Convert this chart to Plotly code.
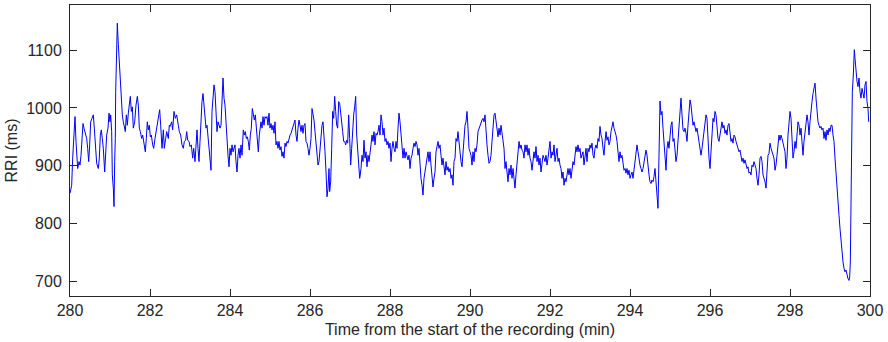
import plotly.graph_objects as go

# RRI series, split into segments (time in minutes, RRI in ms)
t_seg1 = [280.000, 280.042, 280.067, 280.100, 280.125, 280.150, 280.167, 280.192, 280.225, 280.250,
          280.275, 280.300, 280.325, 280.350, 280.375, 280.417, 280.442, 280.467, 280.492, 280.517,
          280.550, 280.583, 280.608, 280.633, 280.667, 280.708, 280.733, 280.758, 280.783, 280.808,
          280.833, 280.867, 280.892, 280.917, 280.950, 280.975, 281.000, 281.017, 281.042, 281.058,
          281.083, 281.100, 281.117, 281.133, 281.142, 281.167, 281.183, 281.208, 281.233, 281.258,
          281.283, 281.308, 281.333, 281.358, 281.383, 281.408, 281.433, 281.458, 281.483, 281.508,
          281.533, 281.558, 281.583, 281.617, 281.650, 281.683, 281.708, 281.733, 281.758, 281.792,
          281.817, 281.850, 281.883, 281.908, 281.933, 281.958, 281.983, 282.008, 282.033, 282.067,
          282.092, 282.125, 282.150, 282.183, 282.217, 282.242, 282.267, 282.300, 282.333, 282.358,
          282.392, 282.417, 282.458, 282.483]
rri_seg1 = [852, 866, 913, 959, 985, 942, 918, 895, 907, 901,
            918, 942, 973, 965, 959, 947, 930, 907, 936, 976,
            982, 988, 965, 930, 904, 895, 913, 953, 962, 947,
            930, 889, 918, 953, 965, 991, 976, 988, 959, 884,
            861, 829, 907, 947, 1028, 1115, 1147, 1110, 1081, 1040,
            1005, 988, 976, 965, 959, 988, 970, 991, 1005, 1020,
            994, 1002, 965, 976, 1005, 1020, 1005, 965, 959, 947,
            953, 939, 924, 947, 976, 962, 970, 950, 953, 936,
            930, 947, 959, 976, 988, 997, 970, 930, 962, 930,
            947, 959, 947, 970]

t_seg2 = [282.500, 282.542, 282.567, 282.600, 282.633, 282.667, 282.708, 282.733, 282.767, 282.800,
          282.833, 282.858, 282.892, 282.917, 282.942, 282.975, 283.000, 283.033, 283.067, 283.092,
          283.125, 283.150, 283.175, 283.200, 283.225, 283.250, 283.275, 283.300, 283.325, 283.350,
          283.375, 283.400, 283.425, 283.450, 283.475, 283.500, 283.525, 283.550, 283.575, 283.600,
          283.625, 283.650, 283.675, 283.700, 283.725, 283.750, 283.775, 283.800, 283.825, 283.850,
          283.875, 283.900, 283.925, 283.950, 283.975, 284.000, 284.025, 284.050, 284.075, 284.100,
          284.125, 284.150, 284.175, 284.200, 284.225, 284.250, 284.275, 284.300, 284.333, 284.358,
          284.383, 284.408, 284.433, 284.458, 284.483, 284.508, 284.533, 284.558, 284.583, 284.608,
          284.633, 284.658, 284.683, 284.708, 284.733]
rri_seg2 = [968, 976, 962, 994, 982, 988, 970, 959, 953, 936,
            930, 942, 944, 959, 944, 942, 933, 936, 913, 930,
            907, 942, 962, 930, 907, 942, 982, 1011, 1025, 999,
            988, 965, 970, 953, 924, 907, 892, 994, 1023, 1040,
            1028, 988, 959, 976, 968, 965, 970, 1028, 1052, 1017,
            1005, 976, 939, 918, 898, 930, 918, 936, 924, 930,
            936, 907, 889, 918, 930, 913, 936, 918, 962, 953,
            959, 947, 950, 942, 927, 953, 965, 999, 988, 979,
            988, 970, 947, 924, 953]

t_seg3 = [284.750, 284.775, 284.800, 284.825, 284.850, 284.875, 284.900, 284.925, 284.950, 284.975,
          285.000, 285.025, 285.050, 285.075, 285.100, 285.125, 285.150, 285.175, 285.200, 285.225,
          285.250, 285.275, 285.300, 285.325, 285.350, 285.375, 285.400, 285.425, 285.450, 285.475,
          285.500, 285.525, 285.550, 285.575, 285.600, 285.625, 285.650, 285.675, 285.700, 285.725,
          285.750, 285.775, 285.800, 285.825, 285.850, 285.875, 285.900, 285.925, 285.950, 285.975,
          286.000, 286.025, 286.050, 286.075, 286.100, 286.125, 286.150, 286.175, 286.200, 286.225,
          286.250, 286.275, 286.300, 286.325, 286.350, 286.375, 286.400, 286.425, 286.450, 286.475,
          286.492, 286.517, 286.542, 286.567, 286.592, 286.617, 286.642, 286.667, 286.692, 286.717,
          286.742, 286.767, 286.792, 286.817, 286.842, 286.867, 286.892, 286.917, 286.942, 286.967,
          286.992, 287.017, 287.042, 287.067, 287.092, 287.117, 287.142, 287.167, 287.192, 287.217,
          287.242]
rri_seg3 = [962, 976, 965, 985, 970, 985, 982, 985, 970, 991,
            965, 973, 962, 970, 956, 976, 936, 942, 930, 942,
            927, 933, 916, 924, 913, 939, 933, 942, 939, 947,
            953, 956, 962, 970, 976, 979, 953, 942, 965, 979,
            970, 959, 970, 956, 970, 973, 942, 939, 930, 918,
            930, 947, 999, 988, 979, 959, 936, 913, 901, 907,
            930, 942, 970, 976, 953, 924, 889, 846, 861, 895,
            855, 872, 930, 994, 982, 1020, 994, 970, 965, 1011,
            1008, 988, 965, 959, 942, 942, 936, 944, 939, 988,
            947, 901, 930, 965, 988, 1002, 1020, 953, 930, 901,
            878]

t_seg4 = [287.250, 287.275, 287.300, 287.325, 287.350, 287.375, 287.400, 287.425, 287.450, 287.475,
          287.500, 287.525, 287.550, 287.575, 287.600, 287.625, 287.650, 287.675, 287.700, 287.725,
          287.750, 287.775, 287.800, 287.825, 287.850, 287.875, 287.900, 287.925, 287.950, 287.975,
          288.000, 288.025, 288.050, 288.075, 288.100, 288.125, 288.150, 288.175, 288.200, 288.225,
          288.250, 288.275, 288.300, 288.325, 288.350, 288.375, 288.400, 288.425, 288.450, 288.475,
          288.500, 288.525, 288.550, 288.575, 288.600, 288.625, 288.650, 288.675, 288.700, 288.725,
          288.750, 288.775, 288.800, 288.825, 288.850, 288.875, 288.900, 288.925, 288.950, 288.975,
          289.000, 289.025, 289.050, 289.075, 289.100, 289.125, 289.150, 289.175, 289.200, 289.225,
          289.250, 289.275, 289.300, 289.325, 289.350, 289.375, 289.400, 289.425, 289.450, 289.475,
          289.500, 289.525, 289.550, 289.575, 289.600, 289.625, 289.650, 289.675, 289.700, 289.725]
rri_seg4 = [881, 895, 918, 907, 944, 913, 924, 898, 918, 907,
            930, 936, 953, 942, 959, 936, 956, 953, 959, 970,
            953, 988, 976, 953, 965, 942, 947, 936, 942, 930,
            939, 907, 930, 942, 930, 924, 942, 930, 965, 991,
            976, 959, 942, 913, 930, 913, 924, 916, 910, 918,
            895, 913, 918, 930, 939, 933, 942, 936, 918, 930,
            901, 878, 866, 849, 878, 889, 901, 918, 924, 907,
            924, 901, 872, 863, 878, 889, 924, 936, 942, 930,
            936, 918, 901, 913, 895, 884, 907, 892, 898, 889,
            895, 878, 884, 866, 907, 913, 947, 942, 959, 942]

t_seg5 = [289.750, 289.775, 289.800, 289.825, 289.850, 289.875, 289.900, 289.925, 289.950, 289.975,
          290.000, 290.025, 290.050, 290.075, 290.100, 290.125, 290.150, 290.175, 290.200, 290.225,
          290.250, 290.275, 290.300, 290.325, 290.350, 290.375, 290.400, 290.425, 290.450, 290.475,
          290.500, 290.525, 290.550, 290.575, 290.600, 290.625, 290.650, 290.675, 290.700, 290.725,
          290.750, 290.775, 290.800, 290.825, 290.850, 290.875, 290.900, 290.925, 290.950, 290.975,
          291.000, 291.025, 291.050, 291.075, 291.100, 291.125, 291.150, 291.175, 291.200, 291.225,
          291.250, 291.275, 291.300, 291.325, 291.350, 291.375, 291.400, 291.425, 291.450, 291.475,
          291.500, 291.525, 291.550, 291.575, 291.600, 291.625, 291.650, 291.675, 291.700, 291.725,
          291.750, 291.775, 291.800, 291.825, 291.850, 291.875, 291.900, 291.925, 291.950, 291.975,
          292.000, 292.025, 292.050, 292.075, 292.100, 292.125, 292.150, 292.175, 292.200, 292.225]
rri_seg5 = [913, 907, 898, 930, 942, 970, 976, 994, 965, 930,
            924, 918, 901, 924, 907, 930, 924, 936, 959, 965,
            970, 976, 979, 982, 976, 988, 953, 936, 918, 904,
            907, 918, 942, 970, 988, 991, 976, 959, 950, 965,
            953, 970, 959, 947, 930, 895, 907, 889, 872, 895,
            884, 901, 878, 895, 872, 861, 884, 901, 924, 942,
            930, 936, 927, 924, 913, 936, 924, 936, 918, 930,
            913, 907, 892, 913, 924, 913, 933, 907, 918, 901,
            913, 889, 907, 918, 913, 907, 918, 901, 913, 924,
            942, 913, 924, 918, 936, 907, 921, 930, 907, 913]

t_seg6 = [292.250, 292.275, 292.300, 292.325, 292.350, 292.375, 292.400, 292.425, 292.450, 292.475,
          292.500, 292.525, 292.550, 292.575, 292.600, 292.625, 292.650, 292.675, 292.700, 292.725,
          292.750, 292.775, 292.800, 292.825, 292.850, 292.875, 292.900, 292.925, 292.950, 292.975,
          293.000, 293.025, 293.050, 293.075, 293.100, 293.125, 293.150, 293.175, 293.200, 293.225,
          293.250, 293.275, 293.300, 293.325, 293.350, 293.375, 293.400, 293.425, 293.450, 293.475,
          293.500, 293.525, 293.550, 293.575, 293.600, 293.625, 293.650, 293.675, 293.700, 293.725,
          293.750, 293.775, 293.800, 293.825, 293.850, 293.875, 293.900, 293.925, 293.950, 293.975,
          294.000, 294.025, 294.050, 294.075, 294.100, 294.125, 294.150, 294.175, 294.200, 294.225,
          294.250, 294.275, 294.300, 294.325, 294.350, 294.375, 294.400, 294.425, 294.450, 294.475,
          294.500, 294.525, 294.550, 294.575, 294.600, 294.625, 294.650, 294.675, 294.700, 294.725]
rri_seg6 = [901, 895, 878, 889, 866, 878, 872, 889, 895, 884,
            895, 878, 895, 907, 901, 918, 933, 924, 936, 924,
            930, 913, 918, 924, 901, 924, 930, 907, 930, 924,
            936, 930, 939, 918, 913, 930, 936, 930, 947, 942,
            968, 953, 947, 930, 918, 942, 959, 944, 950, 936,
            942, 959, 970, 976, 965, 959, 953, 942, 924, 907,
            924, 913, 918, 901, 892, 895, 887, 895, 884, 892,
            878, 884, 889, 878, 895, 913, 930, 936, 924, 907,
            901, 895, 889, 895, 907, 918, 927, 918, 895, 884,
            872, 869, 875, 872, 881, 895, 872, 843, 826, 918]

t_seg7 = [294.750, 294.775, 294.800, 294.825, 294.850, 294.875, 294.900, 294.925, 294.950, 294.975,
          295.000, 295.025, 295.050, 295.075, 295.100, 295.125, 295.150, 295.175, 295.200, 295.225,
          295.250, 295.275, 295.300, 295.325, 295.350, 295.375, 295.400, 295.425, 295.450, 295.475,
          295.500, 295.525, 295.550, 295.575, 295.600, 295.625, 295.650, 295.675, 295.700, 295.725,
          295.750, 295.775, 295.800, 295.825, 295.850, 295.875, 295.900, 295.925, 295.950, 295.975,
          296.000, 296.025, 296.050, 296.075, 296.100, 296.125, 296.150, 296.175, 296.200, 296.225,
          296.250, 296.275, 296.300, 296.325, 296.350, 296.375, 296.400, 296.425, 296.450, 296.475,
          296.500, 296.525, 296.550, 296.575, 296.600, 296.625, 296.650, 296.675, 296.700, 296.725,
          296.750, 296.775, 296.800, 296.825, 296.850, 296.875, 296.900, 296.925, 296.950, 296.975,
          297.000, 297.025, 297.050, 297.075, 297.100, 297.125, 297.150, 297.175, 297.200, 297.225]
rri_seg7 = [1012, 988, 994, 965, 942, 913, 892, 930, 942, 930,
            959, 970, 976, 942, 947, 930, 907, 918, 942, 965,
            988, 1017, 988, 962, 959, 965, 956, 942, 970, 988,
            1014, 1005, 982, 970, 976, 965, 959, 965, 953, 942,
            924, 918, 930, 947, 953, 976, 988, 982, 930, 913,
            895, 930, 953, 982, 976, 994, 988, 959, 947, 942,
            953, 965, 976, 965, 970, 956, 962, 953, 970, 973,
            953, 942, 947, 939, 953, 950, 942, 936, 930, 924,
            927, 918, 907, 913, 904, 910, 901, 895, 898, 887,
            889, 884, 901, 898, 907, 901, 895, 878, 866, 884]

t_seg8 = [297.250, 297.275, 297.300, 297.325, 297.350, 297.375, 297.400, 297.425, 297.450, 297.475,
          297.500, 297.525, 297.550, 297.575, 297.600, 297.625, 297.650, 297.675, 297.700, 297.725,
          297.750, 297.775, 297.800, 297.825, 297.850, 297.875, 297.900, 297.925, 297.950, 297.975,
          298.000, 298.025, 298.050, 298.075, 298.100, 298.125, 298.150, 298.175, 298.200, 298.225,
          298.250, 298.275, 298.300, 298.325, 298.350, 298.375, 298.400, 298.425, 298.450, 298.475,
          298.500, 298.525, 298.550, 298.575, 298.600, 298.625, 298.650, 298.675, 298.700, 298.725,
          298.750, 298.775, 298.800, 298.825, 298.850, 298.875, 298.900, 298.925, 298.950, 298.975,
          299.000, 299.025, 299.050, 299.075, 299.100, 299.125, 299.150, 299.175, 299.200, 299.225,
          299.250, 299.275, 299.300, 299.325, 299.350, 299.375, 299.400, 299.425, 299.450, 299.475,
          299.492, 299.508, 299.525, 299.542, 299.558, 299.583, 299.608, 299.625, 299.650, 299.675,
          299.700, 299.725, 299.750, 299.775, 299.800, 299.825, 299.850, 299.875, 299.900, 299.925,
          299.950, 299.967]
rri_seg8 = [913, 916, 907, 884, 878, 872, 861, 884, 918, 921,
            939, 930, 924, 918, 913, 892, 901, 918, 942, 953,
            944, 953, 947, 939, 930, 924, 895, 913, 953, 976,
            994, 982, 942, 913, 924, 942, 930, 959, 976, 970,
            953, 965, 942, 918, 942, 959, 970, 988, 976, 953,
            976, 999, 1011, 1025, 1034, 1043, 1017, 988, 976, 970,
            965, 968, 962, 965, 947, 959, 944, 962, 953, 965,
            959, 970, 970, 953, 942, 913, 884, 855, 837, 814,
            791, 768, 745, 733, 722, 716, 719, 710, 704, 701,
            707, 733, 814, 942, 1028, 1057, 1101, 1086, 1063, 1046,
            1037, 1052, 1028, 1017, 1034, 1023, 1017, 1040, 1046, 1011,
            999, 976]

time_min = t_seg1 + t_seg2 + t_seg3 + t_seg4 + t_seg5 + t_seg6 + t_seg7 + t_seg8
rri_ms = rri_seg1 + rri_seg2 + rri_seg3 + rri_seg4 + rri_seg5 + rri_seg6 + rri_seg7 + rri_seg8

x_ticks = [280, 282, 284, 286, 288, 290, 292, 294, 296, 298, 300]
y_ticks = [700, 800, 900, 1000, 1100]

fig = go.Figure()
fig.add_trace(go.Scatter(x=time_min, y=rri_ms, mode="lines",
                         line=dict(color="#0000ff", width=1), hoverinfo="skip"))

axis_common = dict(showgrid=False, zeroline=False, showline=True, linecolor="#262626",
                   linewidth=1, mirror="ticks", ticks="inside", ticklen=7,
                   tickcolor="#262626", tickwidth=1, automargin=False,
                   tickfont=dict(family="Liberation Sans, Arial, sans-serif", size=16, color="#262626"))

fig.update_layout(
    width=888, height=342,
    margin=dict(l=70, r=18, t=5, b=46),
    plot_bgcolor="white", paper_bgcolor="white",
    showlegend=False,
    font=dict(family="Liberation Sans, Arial, sans-serif", size=16, color="#262626"),
    xaxis=dict(range=[280, 300], tickvals=x_ticks, ticktext=[str(v) for v in x_ticks],
               title=dict(text="Time from the start of the recording (min)", standoff=5,
                          font=dict(size=16)),
               **axis_common),
    yaxis=dict(range=[674, 1178.5], tickvals=y_ticks, ticktext=[str(v) for v in y_ticks],
               title=dict(text="RRI (ms)", standoff=4, font=dict(size=16)),
               ticklabelstandoff=4,
               **axis_common),
)

fig.write_html("out.html", config={"displayModeBar": False},
               post_script="document.body.style.margin='0px';")
